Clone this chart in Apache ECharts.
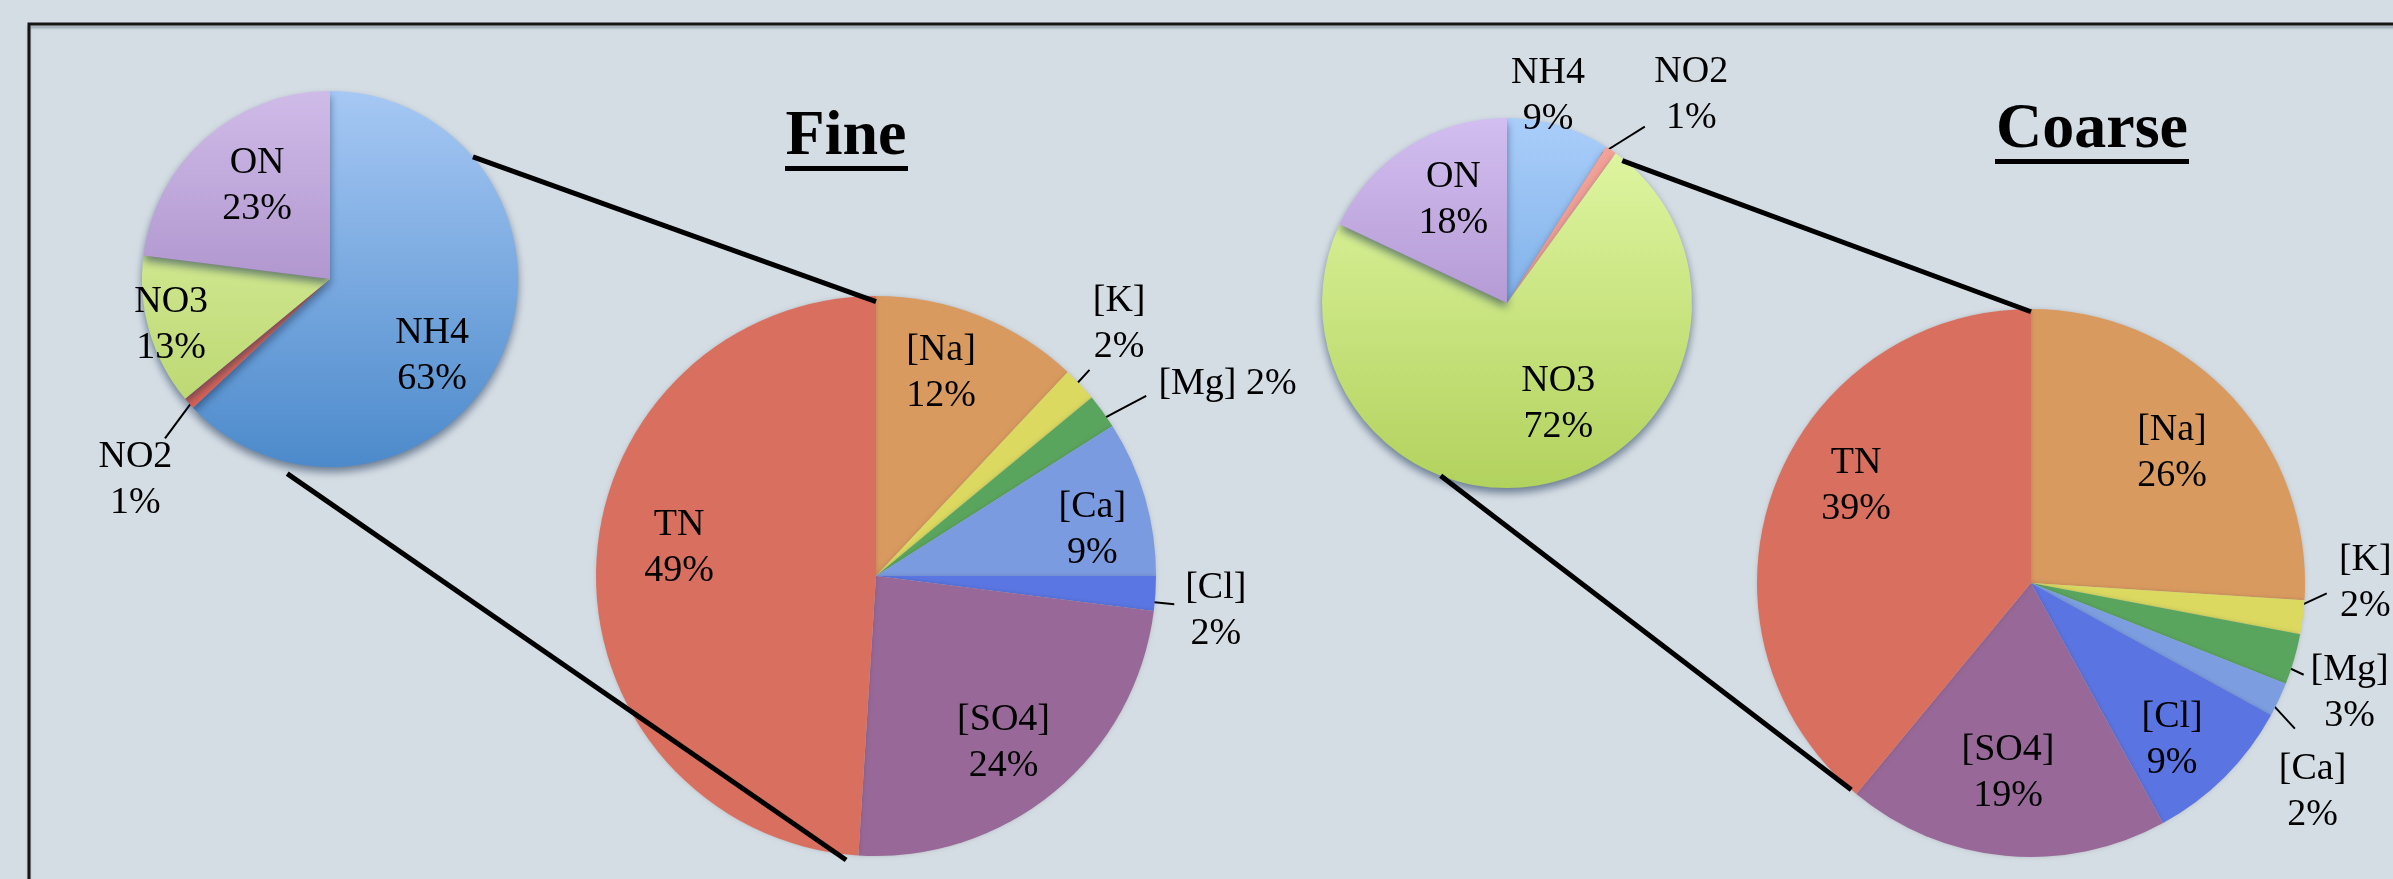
<!DOCTYPE html>
<html>
<head>
<meta charset="utf-8">
<title>Fine / Coarse nitrogen composition</title>
<script src="https://cdn.jsdelivr.net/npm/echarts@6/dist/echarts.min.js"></script>
<style>
  html, body { margin: 0; padding: 0; background: #d5dde4; }
  #main { width: 2393px; height: 879px; }
</style>
</head>
<body>
<div id="main"></div>
<script>
// data
var totalNames = ['NH4', 'NO2', 'NO3', 'ON'];
var fineTotal = [63, 1, 13, 23];
var coarseTotal = [9, 1, 72, 18];
var ionNames = ['[Na]', '[K]', '[Mg]', '[Ca]', '[Cl]', '[SO4]', 'TN'];
var fineIons = [12, 2, 2, 9, 2, 24, 49];
var coarseIons = [26, 2, 3, 2, 9, 19, 39];
var titles = ['Fine', 'Coarse'];

var FONT = '"Liberation Serif", "Times New Roman", serif';

// slice colours: [top, bottom] gradients for the small pies, flat for the big ones
var fineTotalColors = [['#a6c8f4', '#4c8acb'], ['#e8786a', '#d85e50'], ['#e4f6ae', '#b4d266'], ['#cfbbe8', '#9373b6']];
var coarseTotalColors = [['#aacefa', '#5896d8'], ['#f4a49a', '#ec8e84'], ['#e2f8a6', '#b2d25e'], ['#d2bef0', '#9878ba']];
var fineIonColors = ['#d99a5f', '#dbd960', '#5aa55e', '#7b9be0', '#5a76e2', '#976898', '#d96f5f'];
var coarseIonColors = ['#d99a5f', '#dbd960', '#5aa55e', '#7c9ee0', '#5a74e2', '#976898', '#d96f5f'];

// label placement per slice: [radius factor, angle shift] for inside labels,
// plus [r1, a1, r2, a2] for the leader line of outside labels
var pies = [
  { center: [330, 279], r: 188, names: totalNames, values: fineTotal, colors: fineTotalColors,
    labels: [[0.68, 13.6], [1.49, -4.6, 0.96, 0, 1.22, -2.6], [0.88, 0], [0.63, 3.4]] },
  { center: [876, 576], r: 280, names: ionNames, values: fineIons, colors: fineIonColors, oneLine: ['[Mg]'],
    labels: [[0.76, -3.8], [1.25, -2.8, 0.87, 0, 1.06, -0.8], [1.43, 7.4, 0.92, 0.8, 1.16, 2.3],
             [0.79, 4.1], [1.22, 2.3, 0.91, 1.8, 1.07, 1.8], [0.75, 2.2], [0.71, 6.2]] },
  { center: [1507, 303], r: 185, names: totalNames, values: coarseTotal, colors: coarseTotalColors,
    labels: [[1.14, -5], [1.5, 7.4, 0.94, -2.3, 1.21, 3.8], [0.61, -12.6], [0.63, 5]] },
  { center: [2031, 583], r: 274, names: ionNames, values: coarseIons, colors: coarseIonColors,
    labels: [[0.70, 0.5], [1.22, -7.2, 0.88, 1.6, 1.08, -5.2], [1.23, 2.8, 0.89, 1.2, 1.05, 2.4],
             [1.28, 11.4, 0.9, -0.6, 1.1, 3.7], [0.77, 3], [0.70, 1.5], [0.73, 9.2]] }
];

function polar(pie, k, deg) {
  var a = deg * Math.PI / 180;
  return [pie.center[0] + k * pie.r * Math.sin(a), pie.center[1] - k * pie.r * Math.cos(a)];
}

function midAngle(values, idx) {
  var total = 0, before = 0;
  values.forEach(function (v, i) { total += v; if (i < idx) before += v; });
  return (before + values[idx] / 2) / total * 360;
}

function sliceColor(pie, i) {
  var c = pie.colors[i];
  if (typeof c === 'string') return c;
  return {
    type: 'linear', global: true,
    x: 0, y: pie.center[1] - pie.r, x2: 0, y2: pie.center[1] + pie.r,
    colorStops: [{ offset: 0, color: c[0] }, { offset: 1, color: c[1] }]
  };
}

function makeSeries(pie, si) {
  var small = typeof pie.colors[0] !== 'string';
  return {
    type: 'pie',
    center: pie.center,
    radius: [0, pie.r],
    startAngle: 90,
    clockwise: true,
    avoidLabelOverlap: false,
    silent: true,
    animation: false,
    emphasis: { disabled: true },
    itemStyle: small
      ? { shadowBlur: 8, shadowOffsetY: 5, shadowColor: 'rgba(20,45,80,0.55)' }
      : { shadowBlur: 4, shadowColor: 'rgba(0,0,0,0.15)' },
    label: {
      color: '#000', fontFamily: FONT, fontSize: 38, lineHeight: 46,
      formatter: function (p) {
        var pct = Math.round(p.percent) + '%';
        return (pie.oneLine && pie.oneLine.indexOf(p.name) >= 0) ? p.name + ' ' + pct : p.name + '\n' + pct;
      }
    },
    labelLine: { lineStyle: { color: '#000', width: 2 } },
    labelLayout: function (p) {
      var spec = pie.labels[p.dataIndex];
      var mid = midAngle(pie.values, p.dataIndex);
      var pt = polar(pie, spec[0], mid + spec[1]);
      var out = { x: pt[0], y: pt[1], align: 'center', verticalAlign: 'middle' };
      if (spec.length > 2) {
        var a = polar(pie, spec[2], mid + spec[3]);
        var b = polar(pie, spec[4], mid + spec[5]);
        out.labelLinePoints = [a, [(a[0] + b[0]) / 2, (a[1] + b[1]) / 2], b];
      }
      return out;
    },
    data: pie.values.map(function (v, i) {
      var outside = pie.labels[i].length > 2;
      return {
        name: pie.names[i],
        value: v,
        itemStyle: { color: sliceColor(pie, i) },
        label: { position: outside ? 'outside' : 'inside' },
        labelLine: { show: outside, length: 20, length2: 0 }
      };
    })
  };
}

// connector lines between each small pie and its expanded pie
function connector(a, b) {
  return { type: 'line', z: 100, silent: true,
    shape: { x1: a[0], y1: a[1], x2: b[0], y2: b[1] },
    style: { stroke: '#000', lineWidth: 5 } };
}

var myChart = echarts.init(document.getElementById('main'), null, { renderer: 'canvas' });
var option = {
  backgroundColor: '#d5dde4',
  graphic: [
    { type: 'rect', z: 0, silent: true,
      shape: { x: 29, y: 24, width: 2500, height: 1000 },
      style: { fill: null, stroke: '#151515', lineWidth: 3, shadowColor: 'rgba(60,80,100,0.35)', shadowOffsetY: 3, shadowBlur: 2 } },
    { type: 'text', z: 100, x: 846, y: 137,
      style: { text: titles[0], font: 'bold 64px ' + FONT, fill: '#000', align: 'center', verticalAlign: 'middle' } },
    { type: 'rect', z: 100, shape: { x: 785, y: 166, width: 123, height: 5 }, style: { fill: '#000' } },
    { type: 'text', z: 100, x: 2092, y: 130,
      style: { text: titles[1], font: 'bold 64px ' + FONT, fill: '#000', align: 'center', verticalAlign: 'middle' } },
    { type: 'rect', z: 100, shape: { x: 1995, y: 159, width: 194, height: 5 }, style: { fill: '#000' } },
    connector(polar(pies[0], 1.0, 49.5), polar(pies[1], 0.98, 0)),
    connector(polar(pies[0], 1.06, 192.4), polar(pies[1], 1.02, 186)),
    connector(polar(pies[2], 0.99, 39), polar(pies[3], 0.99, 0)),
    connector(polar(pies[2], 1.0, 201), polar(pies[3], 1.0, 221))
  ],
  series: pies.map(makeSeries)
};
myChart.setOption(option);
</script>
</body>
</html>
